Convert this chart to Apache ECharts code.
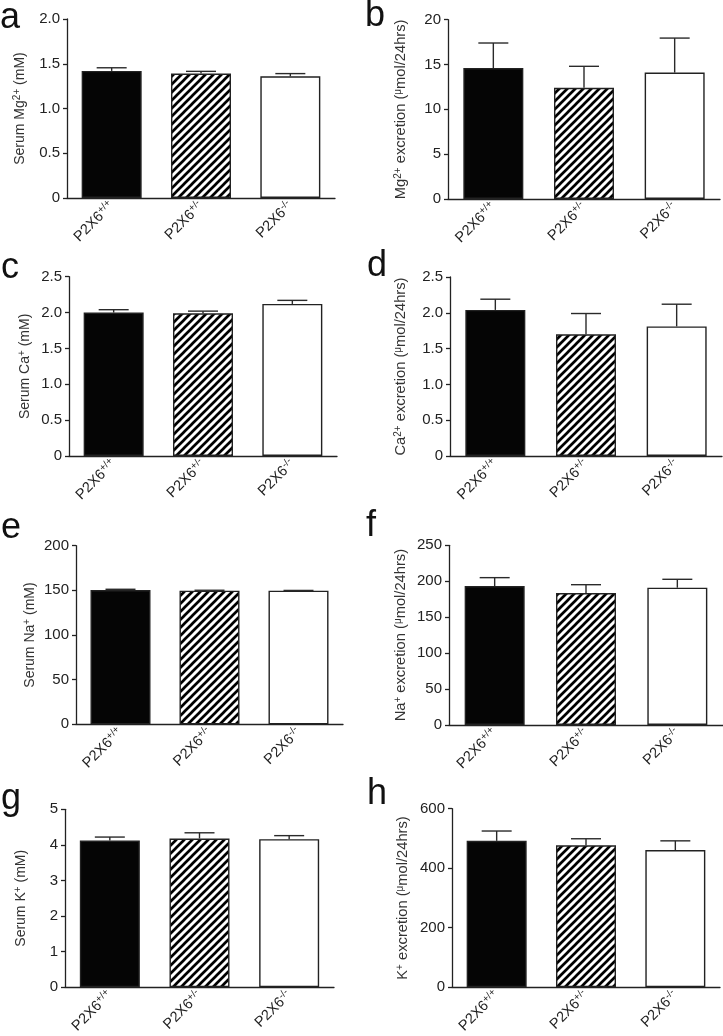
<!DOCTYPE html>
<html>
<head>
<meta charset="utf-8">
<script src="https://cdn.jsdelivr.net/npm/echarts@6/dist/echarts.min.js"></script>
<style>
html,body{margin:0;padding:0;background:#fff;}
#chart{width:723px;height:1036px;}
</style>
</head>
<body>
<div id="chart"></div>
<script>
// ---- data ----
const genotypes = ['+/+', '+/-', '-/-'];
const categoryBase = 'P2X6';

const serumMgMean = [1.42, 1.39, 1.36];
const serumMgSem  = [0.035, 0.025, 0.03];
const mgExcMean   = [14.6, 12.4, 14.1];
const mgExcSem    = [2.8, 2.4, 3.85];
const serumCaMean = [2.00, 1.99, 2.12];
const serumCaSem  = [0.04, 0.03, 0.05];
const caExcMean   = [2.04, 1.70, 1.81];
const caExcSem    = [0.15, 0.29, 0.31];
const serumNaMean = [150.4, 149.6, 149.6];
const serumNaSem  = [0.8, 0.5, 0.3];
const naExcMean   = [193.4, 183.6, 191.0];
const naExcSem    = [11.6, 11.6, 11.7];
const serumKMean  = [4.12, 4.18, 4.16];
const serumKSem   = [0.10, 0.16, 0.10];
const kExcMean    = [492, 477, 461];
const kExcSem     = [33, 22, 31];

const panelLetters = ['a','b','c','d','e','f','g','h'];
const yNames = [
  'Serum Mg{sup|2+} (mM)',
  'Mg{sup|2+} excretion ({mu|μ}mol/24hrs)',
  'Serum Ca{sup|+} (mM)',
  'Ca{sup|2+} excretion ({mu|μ}mol/24hrs)',
  'Serum Na{sup|+} (mM)',
  'Na{sup|+} excretion ({mu|μ}mol/24hrs)',
  'Serum K{sup|+} (mM)',
  'K{sup|+} excretion ({mu|μ}mol/24hrs)'
];
const yMax      = [2, 20, 2.5, 2.5, 200, 250, 5, 600];
const yInterval = [0.5, 5, 0.5, 0.5, 50, 50, 1, 200];
const yDecimals = [1, 0, 1, 1, 0, 0, 0, 0];

const means = [serumMgMean, mgExcMean, serumCaMean, caExcMean, serumNaMean, naExcMean, serumKMean, kExcMean];
const sems  = [serumMgSem, mgExcSem, serumCaSem, caExcSem, serumNaSem, naExcSem, serumKSem, kExcSem];

// ---- layout (pixels) ----
const grids = [
  {left: 67,  top: 19,    width: 268, height: 179},
  {left: 448, top: 19.7,  width: 272, height: 179.3},
  {left: 69,  top: 276.7, width: 268, height: 179.3},
  {left: 450, top: 277,   width: 272, height: 179},
  {left: 76,  top: 545.7, width: 267, height: 178.6},
  {left: 449, top: 545.3, width: 274, height: 179.7},
  {left: 65,  top: 809.3, width: 269, height: 178.4},
  {left: 452, top: 808.7, width: 268, height: 179}
];
const nameGaps = [39, 39, 36, 41, 38, 40, 36, 41];
const nameSizes = [14, 14.7, 14, 14.7, 14, 14.7, 14, 14.7];
const letterPos = [
  [0, 27], [365, 25], [1, 276.7], [367, 275], [1, 536.7], [366, 535], [1, 808.3], [367, 803.3]
];

const FONT = '"Liberation Sans", Arial, Helvetica, sans-serif';

// hatch pattern
function makeHatch() {
  const s = 8;
  const c = document.createElement('canvas');
  c.width = s; c.height = s;
  const g = c.getContext('2d');
  g.fillStyle = '#fff';
  g.fillRect(0, 0, s, s);
  g.strokeStyle = '#000';
  g.lineWidth = 2.7;
  g.beginPath();
  g.moveTo(-1, s + 1); g.lineTo(s + 1, -1);
  g.moveTo(-3, 3); g.lineTo(3, -3);
  g.moveTo(s - 3, s + 3); g.lineTo(s + 3, s - 3);
  g.stroke();
  return c;
}
const hatch = makeHatch();
const fills = ['#050505', {image: hatch, repeat: 'repeat'}, '#ffffff'];

const axisColor = '#222';
const option = {
  animation: false,
  backgroundColor: '#fff',
  grid: grids.map(g => Object.assign({containLabel: false}, g)),
  xAxis: grids.map((g, i) => ({
    type: 'category',
    gridIndex: i,
    data: genotypes.map(gt => categoryBase + gt),
    axisLine: {lineStyle: {color: axisColor, width: 1.3}},
    axisTick: {show: false},
    axisLabel: {
      interval: 0,
      rotate: 45,
      margin: 6,
      fontFamily: FONT,
      fontSize: 14.5,
      color: '#222',
      formatter: v => categoryBase + '{sup|' + v.slice(categoryBase.length) + '}',
      rich: {
        sup: {fontSize: 10, verticalAlign: 'top', padding: [0, 0, 7, 0], fontFamily: FONT, color: '#222'}
      }
    }
  })),
  yAxis: grids.map((g, i) => ({
    type: 'value',
    gridIndex: i,
    min: 0,
    max: yMax[i],
    interval: yInterval[i],
    name: yNames[i],
    nameLocation: 'middle',
    nameGap: nameGaps[i],
    nameRotate: 90,
    nameTextStyle: {
      fontFamily: FONT,
      fontSize: nameSizes[i],
      color: '#333',
      rich: {
        sup: {fontSize: 10, padding: [0, 0, 6, 0], fontFamily: FONT, color: '#333'},
        mu: {fontSize: 10, padding: [0, 0, 5, 0], fontFamily: FONT, color: '#333'}
      }
    },
    axisLine: {show: true, lineStyle: {color: axisColor, width: 1.3}},
    axisTick: {show: true, length: 4, lineStyle: {color: axisColor, width: 1.3}},
    splitLine: {show: false},
    axisLabel: {
      margin: 7,
      fontFamily: FONT,
      fontSize: 15,
      color: '#222',
      formatter: v => v === 0 ? '0' : v.toFixed(yDecimals[i])
    }
  })),
  series: [],
  graphic: panelLetters.map((l, i) => ({
    type: 'text',
    left: letterPos[i][0],
    top: letterPos[i][1] - 27,
    style: {
      text: l,
      font: '36px ' + FONT,
      fill: '#111'
    }
  }))
};

for (let i = 0; i < 8; i++) {
  option.series.push({
    type: 'bar',
    xAxisIndex: i,
    yAxisIndex: i,
    barWidth: 60,
    z: 2,
    data: means[i].map((m, k) => ({
      value: m,
      itemStyle: {color: fills[k], borderColor: '#222', borderWidth: 1.4}
    }))
  });
  option.series.push({
    type: 'custom',
    xAxisIndex: i,
    yAxisIndex: i,
    z: 3,
    data: means[i].map((m, k) => [k, m, m + sems[i][k]]),
    renderItem: function (params, api) {
      const p0 = api.coord([api.value(0), api.value(1)]);
      const p1 = api.coord([api.value(0), api.value(2)]);
      const half = 15;
      const st = {stroke: '#2a2a2a', lineWidth: 1.4};
      return {
        type: 'group',
        children: [
          {type: 'line', shape: {x1: p0[0], y1: p0[1], x2: p1[0], y2: p1[1]}, style: st},
          {type: 'line', shape: {x1: p1[0] - half, y1: p1[1], x2: p1[0] + half, y2: p1[1]}, style: st}
        ]
      };
    }
  });
}

const chart = echarts.init(document.getElementById('chart'), null, {renderer: 'canvas'});
chart.setOption(option);
</script>
</body>
</html>
